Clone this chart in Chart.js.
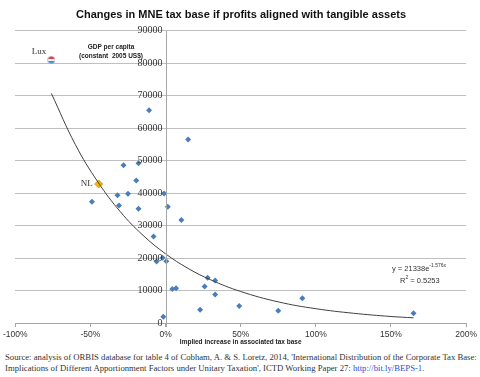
<!DOCTYPE html>
<html>
<head>
<meta charset="utf-8">
<script src="https://cdn.jsdelivr.net/npm/chart.js@4/dist/chart.umd.min.js"></script>
<style>
  body { margin: 0; background: #fff; }
  #wrap { width: 480px; height: 377px; position: relative; }
  #chartBox { width: 480px; height: 348px; }
  #source {
    position: absolute; left: 5px; top: 352px; width: 475px;
    font-family: 'Liberation Serif', 'DejaVu Serif', serif;
    font-size: 8.7px; line-height: 11px; color: #333; white-space: nowrap;
  }
  #source a { color: #2b4fcf; text-decoration: none; }
</style>
</head>
<body>
<div id="wrap">
  <div id="chartBox"><canvas id="chart"></canvas></div>
  <div id="source">Source: analysis of ORBIS database for table 4 of Cobham, A. &amp; S. Loretz, 2014, 'International Distribution of the Corporate Tax Base:<br>Implications of Different Apportionment Factors under Unitary Taxation', ICTD Working Paper 27: <a href="#">http://bit.ly/BEPS-1</a>.</div>
</div>
<script>
// implied increase in tax base (%) and GDP per capita (constant 2005 US$)
const countryX = [-11, 15, -28, -18, -19.5, -49, -32, -25, -1, -31, -18, 1.5, 10.5, -8, -2, -6, 0.5, 4.5, 7, 28, 33, 26, 33, 23, -1.5, 49, 75, 91, 165];
const countryY = [65500, 56500, 48600, 49200, 43900, 37300, 39300, 39800, 39900, 36200, 35200, 35800, 31700, 26600, 20100, 18900, 19000, 10500, 10700, 13900, 13100, 11200, 8800, 4100, 1900, 5200, 3800, 7600, 3000];

const luxX = [-76];
const luxY = [81000];
const nlX = [-44.5];
const nlY = [42800];

// exponential trend line
const trendX = [-76, -60, -45, -30, -15, 0, 15, 30, 50, 75, 100, 125, 150, 165];
const trendY = [70700, 54900, 43400, 34200, 27000, 21300, 16800, 13300, 9700, 6500, 4400, 3000, 2000, 1600];

const xTicks = [-100, -50, 0, 50, 100, 150, 200];
const yTicks = [0, 10000, 20000, 30000, 40000, 50000, 60000, 70000, 80000, 90000];

const toPoints = (xs, ys) => xs.map((x, i) => ({ x: x, y: ys[i] }));

// little flag marker for Luxembourg
const luxMark = document.createElement('canvas');
luxMark.width = 8;
luxMark.height = 8;
(function () {
  const c = luxMark.getContext('2d');
  c.save();
  c.beginPath();
  c.arc(4, 4, 3.5, 0, Math.PI * 2);
  c.clip();
  c.fillStyle = '#e8303a'; c.fillRect(0, 0, 8, 3);
  c.fillStyle = '#ffffff'; c.fillRect(0, 3, 8, 2);
  c.fillStyle = '#3f8fe0'; c.fillRect(0, 5, 8, 3);
  c.restore();
  c.strokeStyle = '#9ab';
  c.lineWidth = 0.6;
  c.beginPath();
  c.arc(4, 4, 3.5, 0, Math.PI * 2);
  c.stroke();
})();

const extras = {
  id: 'extras',
  afterDraw(chart) {
    const ctx = chart.ctx;
    const xs = chart.scales.x;
    const ys = chart.scales.y;
    const area = chart.chartArea;
    const x0 = xs.getPixelForValue(0);
    ctx.save();
    // vertical axis through 0%
    ctx.strokeStyle = '#a6a6a6';
    ctx.lineWidth = 1;
    ctx.beginPath();
    ctx.moveTo(Math.round(x0) + 0.5, area.top);
    ctx.lineTo(Math.round(x0) + 0.5, area.bottom + 4);
    ctx.stroke();
    // y tick labels sitting left of the axis
    ctx.fillStyle = '#333';
    ctx.font = '10px "Liberation Serif", serif';
    ctx.textAlign = 'right';
    ctx.textBaseline = 'middle';
    yTicks.forEach(v => ctx.fillText(String(v), x0 - 3, ys.getPixelForValue(v)));
    // y axis title
    ctx.font = 'bold 6.5px "Liberation Sans", sans-serif';
    ctx.textAlign = 'center';
    ctx.fillStyle = '#222';
    ctx.fillText('GDP per capita', 111, 47);
    ctx.fillText('(constant  2005 US$)', 111, 56);
    // country labels
    ctx.font = '9px "Liberation Serif", serif';
    ctx.fillStyle = '#333';
    ctx.textAlign = 'right';
    ctx.fillText('Lux', xs.getPixelForValue(luxX[0]) - 5, ys.getPixelForValue(luxY[0]) - 8);
    ctx.fillText('NL', xs.getPixelForValue(nlX[0]) - 6, ys.getPixelForValue(nlY[0]));
    // trend equation, superscripts placed after measured base text
    ctx.textAlign = 'left';
    const big = '7.5px "Liberation Sans", sans-serif';
    const small = '5px "Liberation Sans", sans-serif';
    let x = 392;
    ctx.font = big;
    ctx.fillText('y = 21338e', x, 269);
    x += ctx.measureText('y = 21338e').width;
    ctx.font = small;
    ctx.fillText('-1.576x', x, 266);
    x = 400;
    ctx.font = big;
    ctx.fillText('R', x, 281);
    x += ctx.measureText('R').width;
    ctx.font = small;
    ctx.fillText('2', x, 278);
    x += ctx.measureText('2').width;
    ctx.font = big;
    ctx.fillText(' = 0.5253', x, 281);
    ctx.restore();
  }
};

new Chart(document.getElementById('chart'), {
  type: 'scatter',
  data: {
    datasets: [
      {
        type: 'line',
        data: toPoints(trendX, trendY),
        borderColor: '#404040',
        borderWidth: 1,
        pointRadius: 0,
        tension: 0.4,
        fill: false
      },
      {
        data: toPoints(countryX, countryY),
        pointStyle: 'rectRot',
        pointRadius: 3,
        backgroundColor: '#4a7ebb',
        borderColor: '#4a7ebb',
        borderWidth: 0
      },
      {
        data: toPoints(nlX, nlY),
        pointStyle: 'rectRot',
        pointRadius: 4,
        backgroundColor: '#f2b705',
        borderColor: '#c89200',
        borderWidth: 0.8
      },
      {
        data: toPoints(luxX, luxY),
        pointStyle: luxMark
      }
    ]
  },
  options: {
    responsive: true,
    maintainAspectRatio: false,
    animation: false,
    layout: { padding: { left: 15, right: 13, top: 0, bottom: 0 } },
    plugins: {
      legend: { display: false },
      tooltip: { enabled: false },
      title: {
        display: true,
        text: 'Changes in MNE tax base if profits aligned with tangible assets',
        color: '#111',
        font: { family: '"Liberation Sans", sans-serif', size: 11, weight: 'bold' },
        padding: { top: 8, bottom: 9.5 }
      }
    },
    scales: {
      x: {
        type: 'linear',
        min: -100,
        max: 200,
        afterBuildTicks: (s) => { s.ticks = xTicks.map(v => ({ value: v })); },
        afterFit: (s) => { s.height = 25; },
        ticks: {
          callback: (v) => v + '%',
          color: '#333',
          padding: 3,
          maxRotation: 0,
          font: { family: '"Liberation Sans", sans-serif', size: 8.5 }
        },
        grid: { drawOnChartArea: false, drawTicks: true, tickLength: 4, color: '#a6a6a6' },
        border: { color: '#a6a6a6' },
        title: {
          display: true,
          text: 'Implied increase in associated tax base',
          color: '#222',
          font: { family: '"Liberation Sans", sans-serif', size: 6.5, weight: 'bold' },
          padding: { top: 0, bottom: 2 }
        }
      },
      y: {
        min: 0,
        max: 90000,
        afterBuildTicks: (s) => { s.ticks = yTicks.map(v => ({ value: v })); },
        afterFit: (s) => { s.width = 0; },
        ticks: { display: false },
        grid: { color: '#bfbfbf', drawTicks: false },
        border: { display: false }
      }
    }
  },
  plugins: [extras]
});
</script>
</body>
</html>
